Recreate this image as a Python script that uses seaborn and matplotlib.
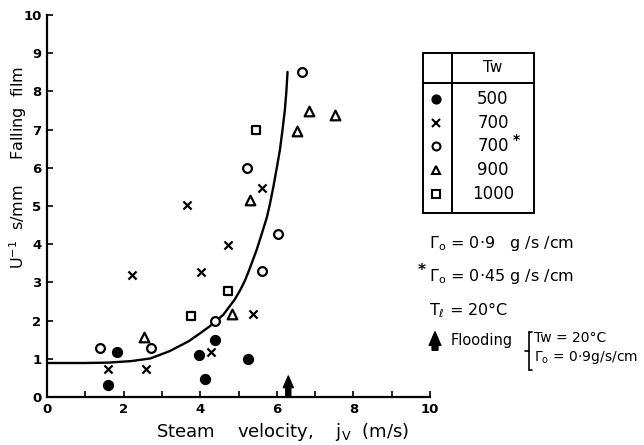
import matplotlib
matplotlib.use("Agg")
import matplotlib.pyplot as plt
from matplotlib.lines import Line2D
from matplotlib.patches import FancyArrowPatch
import numpy as np
import pandas as pd
import seaborn as sns

# Measured reciprocal film velocity against steam velocity, by wall temperature Tw
tw500_jv = [1.58, 1.84, 3.98, 4.12, 4.39, 5.26]
tw500_u = [0.31, 1.18, 1.09, 0.48, 1.50, 0.99]
tw700_jv = [1.60, 2.21, 2.58, 3.65, 4.01, 4.28, 4.73, 5.37, 5.62]
tw700_u = [0.72, 3.19, 0.72, 5.02, 3.27, 1.18, 3.99, 2.18, 5.48]
tw700s_jv = [1.38, 2.72, 4.39, 5.23, 5.62, 6.02, 6.65]
tw700s_u = [1.29, 1.29, 1.99, 6.00, 3.30, 4.28, 8.50]
tw900_jv = [2.54, 4.82, 5.30, 6.54, 6.85, 7.52]
tw900_u = [1.57, 2.18, 5.17, 6.96, 7.49, 7.39]
tw1000_jv = [3.75, 4.73, 5.45]
tw1000_u = [2.11, 2.77, 7.00]

# Trend curve through the data
curve_jv = [0.0, 1.0, 1.6, 2.2, 2.7, 3.2, 3.7, 4.0, 4.26, 4.6, 4.9, 5.04, 5.17,
            5.3, 5.47, 5.6, 5.74, 5.82, 5.91, 6.0, 6.08, 6.15, 6.21, 6.25, 6.28]
curve_u = [0.89, 0.89, 0.90, 0.94, 1.01, 1.20, 1.46, 1.67, 1.86, 2.15, 2.55,
           2.79, 3.05, 3.38, 3.84, 4.25, 4.70, 5.05, 5.50, 6.00, 6.46, 7.00,
           7.51, 8.00, 8.51]

# Flooding velocity (Tw = 20 C, Gamma_o = 0.9 g/s/cm)
flood_jv = 6.3

legend_labels = ["500", "700", "700", "900", "1000"]
x_ticks = [0, 2, 4, 6, 8, 10]
y_ticks = [0, 1, 2, 3, 4, 5, 6, 7, 8, 9, 10]

groups = [
    ("500", tw500_jv, tw500_u),
    ("700", tw700_jv, tw700_u),
    ("700*", tw700s_jv, tw700s_u),
    ("900", tw900_jv, tw900_u),
    ("1000", tw1000_jv, tw1000_u),
]
df = pd.concat(
    [pd.DataFrame({"jv": xs, "inv_u": ys, "tw": name}) for name, xs, ys in groups],
    ignore_index=True,
)

# marker, size, filled
styles = {
    "500": ("o", 42, True),
    "700": ("x", 34, None),
    "700*": ("o", 40, False),
    "900": ("^", 48, False),
    "1000": ("s", 40, False),
}

sns.set_style("ticks")
plt.rcParams["font.family"] = ["DejaVu Sans"]
plt.rcParams.update({
    "text.color": "black", "axes.labelcolor": "black",
    "xtick.color": "black", "ytick.color": "black",
    "axes.edgecolor": "black",
})

W, H = 644, 445
fig = plt.figure(figsize=(W / 100, H / 100), dpi=100)
ax = fig.add_axes([47 / W, 1 - 397 / H, 383 / W, 382 / H])


def fx(px):
    return px / W


def fy(py):
    return 1 - py / H


for name, (mk, size, filled) in styles.items():
    sub = df[df["tw"] == name]
    if filled is None:
        sns.scatterplot(data=sub, x="jv", y="inv_u", marker=mk, s=size,
                        color="black", linewidth=1.6, ax=ax, clip_on=False,
                        zorder=3)
    else:
        sns.scatterplot(data=sub, x="jv", y="inv_u", marker=mk, s=size,
                        facecolor="black" if filled else "white",
                        edgecolor="black", linewidth=1.6, ax=ax,
                        clip_on=False, zorder=3)

sns.lineplot(x=curve_jv, y=curve_u, sort=False, estimator=None, color="black",
             linewidth=1.7, ax=ax)

ax.annotate("", xy=(flood_jv, 0.55), xytext=(flood_jv, 0.0),
            arrowprops=dict(arrowstyle="simple,head_length=0.7,head_width=0.6,tail_width=0.3",
                            color="black", shrinkA=0, shrinkB=0, mutation_scale=12),
            annotation_clip=False)

ax.set_xlim(0, 10)
ax.set_ylim(0, 10)
ax.set_xticks(x_ticks)
ax.set_xticks(np.arange(1, 10, 2), minor=True)
ax.set_yticks(y_ticks)
ax.tick_params(axis="both", which="both", direction="in", length=4, width=1.2,
               labelsize=9.5, pad=4)
for lab in ax.get_xticklabels() + ax.get_yticklabels():
    lab.set_fontweight("bold")
for side in ("left", "bottom"):
    ax.spines[side].set_linewidth(1.6)
sns.despine(ax=ax)

ax.set_xlabel("Steam    velocity,    j$_\\mathregular{V}$  (m/s)", fontsize=13)
ax.xaxis.set_label_coords(0.615, -0.064)
ax.set_ylabel("U$^{-1}$  s/mm     Falling  film", fontsize=11.5)
ax.yaxis.set_label_coords(-0.047, 0.6)

# Legend table
lw = 1.4
for (x0, y0, x1, y1) in [
    (423, 53, 534, 53), (423, 213, 534, 213), (423, 53, 423, 213),
    (534, 53, 534, 213), (423, 83, 534, 83), (452, 53, 452, 213),
]:
    fig.add_artist(Line2D([fx(x0), fx(x1)], [fy(y0), fy(y1)], color="black", lw=lw))
fig.text(fx(493), fy(68), "Tw", ha="center", va="center", fontsize=11)
row_y = [99, 123, 146, 170, 194]
for (name, (mk, size, filled)), lab, ry in zip(styles.items(), legend_labels, row_y):
    fc = "black" if filled or filled is None else "white"
    fig.add_artist(Line2D([fx(436)], [fy(ry)], marker=mk, markersize=np.sqrt(size) * 0.9,
                          markerfacecolor=fc, markeredgecolor="black",
                          markeredgewidth=1.5, linestyle="none"))
    fig.text(fx(493), fy(ry), lab, ha="center", va="center", fontsize=12)
fig.text(fx(513), fy(140), "*", ha="left", va="center", fontsize=10,
         fontweight="bold")

# Conditions
fig.text(fx(429), fy(243), "$\\Gamma_\\mathregular{o}$ = 0·9   g /s /cm", ha="left",
         va="center", fontsize=11.5)
fig.text(fx(418), fy(270), "*", ha="left", va="center", fontsize=11,
         fontweight="bold")
fig.text(fx(429), fy(277), "$\\Gamma_\\mathregular{o}$ = 0·45 g /s /cm", ha="left",
         va="center", fontsize=11.5)
fig.text(fx(429), fy(310), "T$_\\ell$ = 20°C", ha="left", va="center",
         fontsize=11.5)
fig.add_artist(FancyArrowPatch(
    (fx(435), fy(353)), (fx(435), fy(329)), transform=fig.transFigure,
    arrowstyle="simple,head_length=0.7,head_width=0.6,tail_width=0.3",
    mutation_scale=14, color="black"))
fig.text(fx(451), fy(341), "Flooding", ha="left", va="center", fontsize=10.5)
for (x0, y0, x1, y1) in [
    (529, 332, 529, 370), (529, 332, 532, 332), (529, 370, 532, 370),
    (525, 351, 529, 351),
]:
    fig.add_artist(Line2D([fx(x0), fx(x1)], [fy(y0), fy(y1)], color="black", lw=1.2))
fig.text(fx(534), fy(338), "Tw = 20°C", ha="left", va="center", fontsize=10)
fig.text(fx(534), fy(358), "$\\Gamma_\\mathregular{o}$ = 0·9g/s/cm", ha="left",
         va="center", fontsize=10)

fig.savefig("out.png", dpi=100)
